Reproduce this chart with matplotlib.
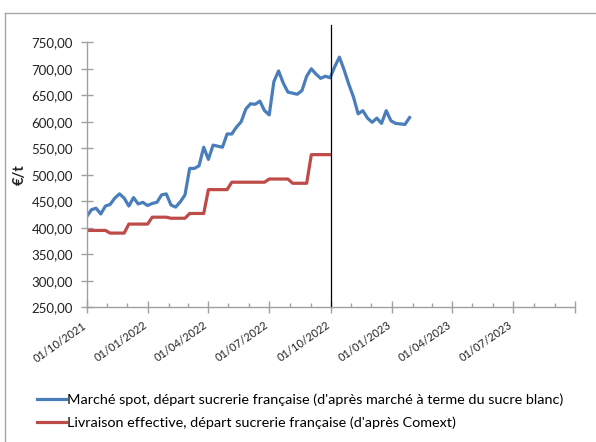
import matplotlib
matplotlib.use("Agg")
import matplotlib.pyplot as plt
import matplotlib.dates as mdates
import matplotlib.transforms as mtransforms
import numpy as np
import pandas as pd
from matplotlib.lines import Line2D
from matplotlib.ticker import FuncFormatter, MultipleLocator

plt.rcParams['font.family'] = ['Lato', 'DejaVu Sans']

# ---- data ----
start_date = "2021-10-01"
spot_values = [421, 434, 437, 426, 441, 444, 456, 464, 456, 441,
               457, 445, 448, 442, 446, 448, 462, 464, 443, 439,
               449, 462, 512, 512, 517, 552, 529, 556, 554, 552,
               577, 577, 590, 600, 624, 634, 633, 639, 621, 613,
               676, 696, 673, 656, 654, 652, 659, 686, 700, 690,
               682, 686, 683, 704, 722, 698, 671, 647, 615, 621,
               607, 599, 607, 597, 621, 602, 597, 596, 595, 608]
delivered_values = [395, 395, 395, 395, 395,
                    390, 390, 390, 390,
                    407, 407, 407, 407, 407,
                    420, 420, 420, 420,
                    418, 418, 418, 418,
                    427, 427, 427, 427,
                    472, 472, 472, 472, 472,
                    486, 486, 486, 486,
                    486, 486, 486, 486,
                    492, 492, 492, 492, 492,
                    484, 484, 484, 484,
                    538, 538, 538, 538, 538]
spot_label = "Marché spot, départ sucrerie française (d'après marché à terme du sucre blanc)"
delivered_label = "Livraison effective, départ sucrerie française (d'après Comext)"
y_label = "€/t"
marker_date = "2022-10-01"
x_min, x_max = "2021-10-01", "2023-10-01"
y_min, y_max, y_step = 250, 750, 50

spot_dates = pd.date_range(start_date, periods=len(spot_values), freq="7D")
delivered_dates = pd.date_range(start_date, periods=len(delivered_values), freq="7D")

# ---- figure ----
fig = plt.figure(figsize=(5.96, 4.42), dpi=100)
ax = fig.add_axes([0.1455, 0.3048, 0.8188, 0.5995])

blue = "#4A7EBB"
red = "#BE4B48"
l1, = ax.plot(spot_dates, spot_values, color=blue, lw=2.3, solid_joinstyle='round')
l2, = ax.plot(delivered_dates, delivered_values, color=red, lw=2.3, solid_joinstyle='round')

ax.axvline(pd.Timestamp(marker_date), ymin=0, ymax=1.065, color="black", lw=0.9, clip_on=False)

ax.set_xlim(pd.Timestamp(x_min), pd.Timestamp(x_max))
ax.set_ylim(y_min, y_max)
ax.yaxis.set_major_locator(MultipleLocator(y_step))
ax.yaxis.set_major_formatter(FuncFormatter(lambda v, p: f"{v:.2f}".replace('.', ',')))

last_tick = mdates.date2num(pd.Timestamp(x_max))


def fmt_date(v, p):
    if v >= last_tick - 0.5:
        return ""
    return mdates.num2date(v).strftime("%d/%m/%Y")


ax.xaxis.set_major_locator(mdates.MonthLocator(bymonth=[1, 4, 7, 10]))
ax.xaxis.set_minor_locator(mdates.MonthLocator())
ax.xaxis.set_major_formatter(FuncFormatter(fmt_date))

for s in ['top', 'right']:
    ax.spines[s].set_visible(False)
for s in ['left', 'bottom']:
    ax.spines[s].set_color("#A0A0A0")
    ax.spines[s].set_linewidth(1.0)

ax.tick_params(axis='y', which='major', direction='inout', length=8, width=1,
               color="#A0A0A0", labelsize=9.5, labelcolor="#222222", pad=6)
ax.tick_params(axis='x', which='major', direction='inout', length=8, width=1,
               color="#A0A0A0", labelsize=8, labelcolor="#222222", pad=5)
ax.tick_params(axis='x', which='minor', direction='in', length=3, width=1, color="#A0A0A0")

shift = mtransforms.ScaledTranslation(-5 / 100, 0, fig.dpi_scale_trans)
for tick in ax.xaxis.get_major_ticks():
    lab = tick.label1
    lab.set_rotation(35)
    lab.set_ha('right')
    lab.set_va('top')
    lab.set_rotation_mode('anchor')
    lab.set_transform(lab.get_transform() + shift)

ax.set_ylabel(y_label, fontsize=10.5, fontweight='bold', labelpad=3.5, color="#222222")

fig.legend([l1, l2], [spot_label, delivered_label], loc='upper left',
           bbox_to_anchor=(0.062, 0.11), frameon=False, fontsize=10.4,
           handlelength=2.0, handletextpad=0.05, labelspacing=0.72,
           borderaxespad=0, borderpad=0)

# outer chart frame (partially cropped)
fig.add_artist(Line2D([5/596, 1.0], [1 - 13/442, 1 - 13/442], transform=fig.transFigure,
                      color="#A6A6A6", lw=1.0))
fig.add_artist(Line2D([5/596, 5/596], [0, 1 - 13/442], transform=fig.transFigure,
                      color="#A6A6A6", lw=1.0))

fig.savefig("out.png", dpi=100)
